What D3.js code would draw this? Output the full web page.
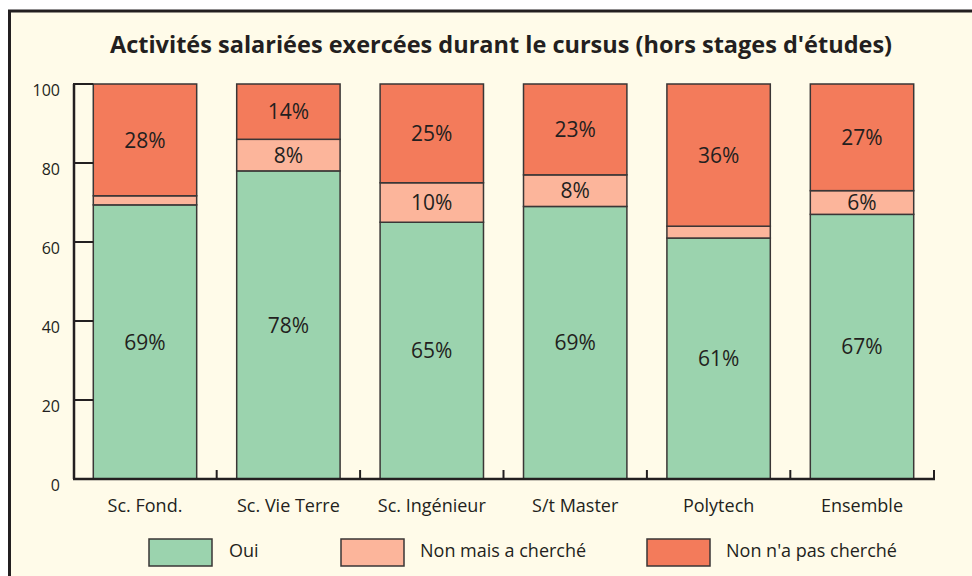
<!DOCTYPE html>
<html lang="fr">
<head>
<meta charset="utf-8">
<script src="https://d3js.org/d3.v7.min.js"></script>
<style>
  body { margin: 0; background: #ffffff; }
  text { font-family: "Open Sans", sans-serif; fill: #231f20; }
</style>
</head>
<body>
<script>
// categories and values (percent)
const categories = ["Sc. Fond.", "Sc. Vie Terre", "Sc. Ingénieur", "S/t Master", "Polytech", "Ensemble"];
const oui = [69.4, 78, 65, 69, 61, 67];
const nonCherche = [2.3, 8, 10, 8, 3, 6];
const nonPasCherche = [28.3, 14, 25, 23, 36, 27];
const seriesNames = ["Oui", "Non mais a cherché", "Non n'a pas cherché"];
const colors = ["#9bd3ae", "#fcb59b", "#f37b5b"];
const yTicks = [0, 20, 40, 60, 80, 100];

const width = 972, height = 576;

const svg = d3.select("body").append("svg")
    .attr("width", width)
    .attr("height", height);

// frame
svg.append("rect")
    .attr("x", 9.5).attr("y", 11)
    .attr("width", 980).attr("height", 600)
    .attr("fill", "#fffbe9")
    .attr("stroke", "#231f20")
    .attr("stroke-width", 3);

svg.append("text")
    .attr("x", 501).attr("y", 53)
    .attr("text-anchor", "middle")
    .style("font-weight", "bold")
    .style("font-size", "23.5px")
    .text("Activités salariées exercées durant le cursus (hors stages d'études)");

const x = d3.scaleBand()
    .domain(categories)
    .range([73, 934])
    .paddingInner(0.279)
    .paddingOuter(0.1415);

const y = d3.scaleLinear()
    .domain([0, 100])
    .range([479, 84]);

// stacked data
const table = categories.map((c, i) => ({
    cat: c, s0: oui[i], s1: nonCherche[i], s2: nonPasCherche[i]
}));
const stack = d3.stack().keys(["s0", "s1", "s2"])(table);

const layers = svg.append("g").selectAll("g")
    .data(stack)
    .join("g")
    .attr("fill", (d, i) => colors[i]);

layers.selectAll("rect")
    .data(d => d)
    .join("rect")
    .attr("x", d => x(d.data.cat))
    .attr("y", d => y(d[1]))
    .attr("width", x.bandwidth())
    .attr("height", d => y(d[0]) - y(d[1]))
    .attr("stroke", "#3a3636")
    .attr("stroke-width", 1.5);

// value labels (small segments left unlabelled)
layers.selectAll("text")
    .data(d => d.filter(v => v[1] - v[0] >= 5))
    .join("text")
    .attr("x", d => x(d.data.cat) + x.bandwidth() / 2)
    .attr("y", d => (y(d[0]) + y(d[1])) / 2 + 2)
    .attr("text-anchor", "middle")
    .attr("dominant-baseline", "middle")
    .style("font-size", "21px")
    .text(d => Math.round(d[1] - d[0]) + "%");

// y axis
const yAxis = svg.append("g");
yAxis.append("line")
    .attr("x1", 74).attr("x2", 74)
    .attr("y1", y(100)).attr("y2", y(0))
    .attr("stroke", "#231f20").attr("stroke-width", 2.5);
yAxis.selectAll("line.tick")
    .data(yTicks)
    .join("line")
    .attr("class", "tick")
    .attr("x1", 73).attr("x2", x(categories[0]))
    .attr("y1", d => y(d)).attr("y2", d => y(d))
    .attr("stroke", "#231f20").attr("stroke-width", 2);
yAxis.selectAll("text")
    .data(yTicks)
    .join("text")
    .attr("x", 60)
    .attr("y", d => y(d) + 8)
    .attr("text-anchor", "end")
    .attr("dominant-baseline", "middle")
    .style("font-size", "16px")
    .text(d => d);

// x axis with ticks at band edges
const xAxis = svg.append("g");
xAxis.append("line")
    .attr("x1", 73).attr("x2", 935)
    .attr("y1", y(0)).attr("y2", y(0))
    .attr("stroke", "#231f20").attr("stroke-width", 2.5);
const edges = categories.slice(1).map(c => x(c) - x.step() * x.paddingInner() / 2).concat([934]);
xAxis.selectAll("line.tick")
    .data(edges)
    .join("line")
    .attr("class", "tick")
    .attr("x1", d => d).attr("x2", d => d)
    .attr("y1", y(0)).attr("y2", y(0) - 9)
    .attr("stroke", "#231f20").attr("stroke-width", 2);
xAxis.selectAll("text")
    .data(categories)
    .join("text")
    .attr("x", d => x(d) + x.bandwidth() / 2)
    .attr("y", 507)
    .attr("text-anchor", "middle")
    .attr("dominant-baseline", "middle")
    .style("font-size", "18px")
    .text(d => d);

// legend
const legendX = [149, 341, 647];
const legend = svg.append("g").selectAll("g")
    .data(seriesNames)
    .join("g")
    .attr("transform", (d, i) => `translate(${legendX[i]},539)`);
legend.append("rect")
    .attr("width", 63).attr("height", 27)
    .attr("fill", (d, i) => colors[i])
    .attr("stroke", "#3a3636").attr("stroke-width", 1.5);
legend.append("text")
    .attr("x", (d, i) => i === 0 ? 80 : 79)
    .attr("y", 13)
    .attr("dominant-baseline", "middle")
    .style("font-size", "18px")
    .text(d => d);
</script>
</body>
</html>
